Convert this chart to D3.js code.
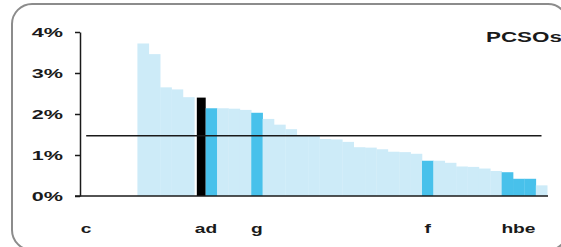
<!DOCTYPE html>
<html>
<head>
<meta charset="utf-8">
<script src="https://cdn.jsdelivr.net/npm/d3@7"></script>
<style>
  body { margin: 0; background: #fff; }
  svg { display: block; }
  text { font-family: "Liberation Sans", Arial, sans-serif; font-weight: bold; fill: #1a1a1a; }
</style>
</head>
<body>
<svg width="561" height="247"></svg>
<script>
const svg = d3.select('svg');

// one label per force; most forces are unlabelled
const labels = ['c', '', '', '', '', '', '', '', '', '',
  'a', 'd', '', '', '', 'g', '', '', '', '',
  '', '', '', '', '', '', '', '', '', '',
  'f', '', '', '', '', '', '', 'h', 'b', 'e', ''];

// share of PCSOs (%)
const values = [0, 0, 0, 0, 0, 3.72, 3.46, 2.65, 2.60, 2.41,
  2.40, 2.14, 2.14, 2.13, 2.10, 2.03, 1.88, 1.74, 1.63, 1.49,
  1.48, 1.39, 1.38, 1.32, 1.19, 1.18, 1.14, 1.08, 1.07, 1.03,
  0.86, 0.86, 0.81, 0.72, 0.71, 0.67, 0.61, 0.58, 0.42, 0.42, 0.26];

// base = other forces, mark = highlighted, focus = the selected force
const kinds = labels.map(l => l === 'a' ? 'focus' : (l && l !== 'c' ? 'mark' : 'base'));

const average = 1.47;
const yTicks = [0, 1, 2, 3, 4];

const colors = { base: '#cdebf8', mark: '#48c1eb', focus: '#000' };

const data = labels.map((l, i) => ({ i, label: l, value: values[i], kind: kinds[i] }));

// frame
svg.append('rect')
  .attr('x', 12).attr('y', 4)
  .attr('width', 556).attr('height', 246)
  .attr('rx', 20).attr('ry', 20)
  .attr('fill', 'none')
  .attr('stroke', '#8c8c8c')
  .attr('stroke-width', 2);

const x = d3.scaleBand()
  .domain(data.map(d => d.i))
  .range([80.5, 547.2])
  .padding(0);

const y = d3.scaleLinear()
  .domain([0, 4])
  .range([196, 32]);

const bw = x.bandwidth();

// bars
svg.selectAll('.bar')
  .data(data.filter(d => d.value > 0))
  .enter()
  .append('rect')
  .attr('class', 'bar')
  .attr('x', d => d.kind === 'focus' ? x(d.i) + 2.5 : x(d.i))
  .attr('width', d => d.kind === 'focus' ? bw - 2.5 : bw + 0.3)
  .attr('y', d => y(d.value))
  .attr('height', d => y(0) - y(d.value))
  .attr('fill', d => colors[d.kind]);

// average line
svg.append('line')
  .attr('x1', x(0) + bw / 2)
  .attr('x2', x(labels.length - 1) + bw / 2)
  .attr('y1', y(average)).attr('y2', y(average))
  .attr('stroke', '#1a1a1a')
  .attr('stroke-width', 1.5);

// y axis
const yAxis = svg.append('g')
  .attr('transform', 'translate(80,0)')
  .call(d3.axisLeft(y).tickValues(yTicks).tickSize(5).tickSizeOuter(0).tickFormat(d => d + '%'));

yAxis.select('.domain').attr('stroke', '#1a1a1a').attr('stroke-width', 1.5);
yAxis.selectAll('.tick line').attr('stroke', '#1a1a1a').attr('stroke-width', 1.5);
yAxis.selectAll('.tick text')
  .attr('x', 0)
  .attr('dy', '0.36em')
  .attr('transform', 'translate(-17,0) scale(1.8,1)')
  .style('font-size', '12px')
  .style('font-family', '"Liberation Sans", Arial, sans-serif')
  .style('font-weight', 'bold')
  .attr('fill', '#1a1a1a');

// baseline
svg.append('line')
  .attr('x1', 75).attr('x2', 548)
  .attr('y1', y(0)).attr('y2', y(0))
  .attr('stroke', '#1a1a1a')
  .attr('stroke-width', 1.5);

// category labels
svg.selectAll('.xlabel')
  .data(data.filter(d => d.label))
  .enter()
  .append('text')
  .attr('class', 'xlabel')
  .attr('text-anchor', 'middle')
  .attr('transform', d => `translate(${x(d.i) + bw / 2},233) scale(1.6,1)`)
  .style('font-size', '12px')
  .text(d => d.label);

// title
svg.append('text')
  .attr('transform', 'translate(486,42) scale(1.6,1)')
  .style('font-size', '14px')
  .text('PCSOs');
</script>
</body>
</html>
